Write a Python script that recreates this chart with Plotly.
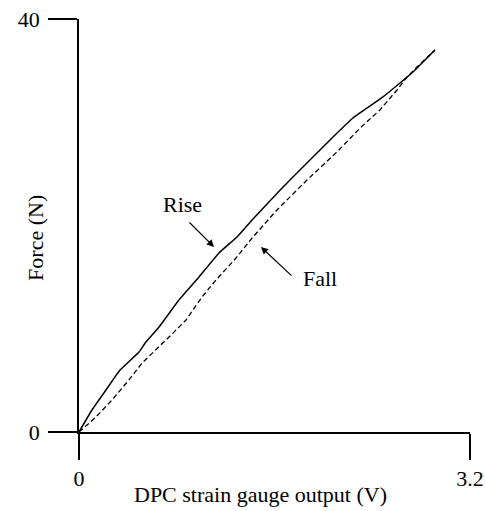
import plotly.graph_objects as go

# Data
rise_v = [0.0, 0.106, 0.221, 0.336, 0.491, 0.548, 0.655, 0.818, 0.982, 1.146, 1.293, 1.424, 1.670, 1.833, 2.079, 2.242, 2.488, 2.733, 2.913]
rise_f = [0.0, 2.13, 4.07, 6.00, 7.75, 8.72, 10.17, 12.78, 15.01, 17.34, 18.89, 20.63, 23.73, 25.67, 28.57, 30.41, 32.45, 34.87, 37.00]

fall_v = [0.0, 0.139, 0.270, 0.409, 0.516, 0.630, 0.737, 0.876, 1.007, 1.121, 1.285, 1.424, 1.620, 1.866, 2.111, 2.300, 2.463, 2.602, 2.684, 2.766, 2.913]
fall_f = [0.0, 1.45, 3.10, 5.04, 6.68, 7.94, 9.20, 10.85, 13.08, 14.72, 16.85, 18.89, 21.50, 24.41, 27.12, 29.44, 31.19, 33.12, 34.38, 35.35, 37.00]

x_ticks = [0, 3.2]
x_ticktext = ["0", "3.2"]
y_ticks = [0, 40]
y_ticktext = ["0", "40"]

FONT = "Liberation Serif, Times New Roman, serif"

fig = go.Figure()
fig.add_trace(go.Scatter(x=rise_v, y=rise_f, mode="lines", name="Rise",
                         line=dict(color="black", width=1.5, shape="spline", smoothing=0.4), showlegend=False))
fig.add_trace(go.Scatter(x=fall_v, y=fall_f, mode="lines", name="Fall",
                         line=dict(color="black", width=1.3, dash="5px,3px"), showlegend=False))

# Labels with arrows
fig.add_annotation(x=0.843, y=21.99, text="Rise", showarrow=False, xanchor="center", yanchor="middle",
                   font=dict(family=FONT, size=22, color="black"))
fig.add_annotation(x=1.105, y=17.92, ax=0.892, ay=20.44, axref="x", ayref="y",
                   text="", showarrow=True, arrowhead=2, arrowsize=1.2, arrowwidth=1.2, arrowcolor="black")
fig.add_annotation(x=1.972, y=14.82, text="Fall", showarrow=False, xanchor="center", yanchor="middle",
                   font=dict(family=FONT, size=22, color="black"))
fig.add_annotation(x=1.489, y=17.92, ax=1.751, ay=15.01, axref="x", ayref="y",
                   text="", showarrow=True, arrowhead=2, arrowsize=1.2, arrowwidth=1.2, arrowcolor="black")

# Axis titles
fig.add_annotation(xref="paper", yref="paper", x=0.463, y=-0.1525, text="DPC strain gauge output (V)",
                   showarrow=False, xanchor="center", yanchor="middle",
                   font=dict(family=FONT, size=22, color="black"))
fig.add_annotation(xref="paper", yref="paper", x=-0.11, y=0.47, text="Force (N)", textangle=-90,
                   showarrow=False, xanchor="center", yanchor="middle",
                   font=dict(family=FONT, size=22, color="black"))

fig.update_xaxes(range=[0, 3.2], showgrid=False, zeroline=False, showline=True, linecolor="black",
                 linewidth=1.5, ticks="outside", ticklen=26, tickwidth=1.5, tickcolor="black",
                 automargin=False,
                 tickvals=x_ticks, ticktext=x_ticktext, tickfont=dict(family=FONT, size=22, color="black"))
fig.update_yaxes(range=[0, 40], showgrid=False, zeroline=False, showline=True, linecolor="black",
                 linewidth=1.5, ticks="outside", ticklen=29, tickwidth=1.5, tickcolor="black",
                 automargin=False, ticklabelstandoff=4,
                 tickvals=y_ticks, ticktext=y_ticktext, tickfont=dict(family=FONT, size=22, color="black"))

fig.update_layout(width=485, height=511, margin=dict(l=79, r=15, t=19, b=79),
                  plot_bgcolor="white", paper_bgcolor="white")

fig.write_html("out.html", config={"displayModeBar": False},
               post_script="document.body.style.margin='0';document.body.style.overflow='hidden';")
